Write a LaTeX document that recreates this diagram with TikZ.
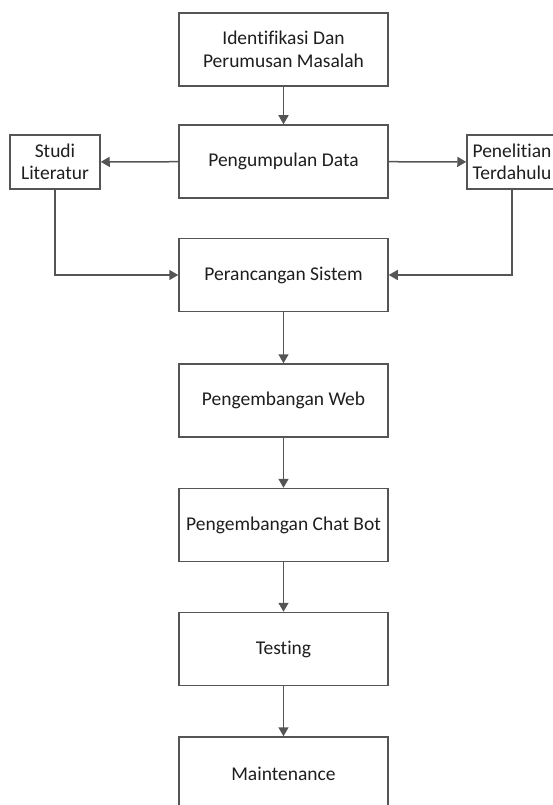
\documentclass[tikz,border=0pt]{standalone}
\usepackage{fontspec}
\setmainfont{Carlito}[Ligatures=NoCommon]
\usetikzlibrary{positioning,arrows.meta}
\definecolor{linegray}{HTML}{555555}
\definecolor{textdark}{HTML}{1E1E1E}
\begin{document}
\begin{tikzpicture}[x=1pt, y=-1pt,
    main/.style = {draw=linegray, line width=1.5pt, minimum width=209pt, minimum height=73pt,
                   inner sep=0pt, align=center, text=textdark, font=\fontsize{19.5}{22.5}\selectfont},
    side/.style = {main, minimum width=90pt, minimum height=54pt},
    arr/.style = {draw=linegray, line width=1.5pt, -{Triangle[length=9pt,width=10pt]}}]

    \useasboundingbox (0,0) rectangle (553,805);

    \node[main] (z1) at (283.5,49.5) {Identifikasi Dan\\Perumusan Masalah};
    \node[main] (z2) at (283.5,161.5) {Pengumpulan Data};
    \node[main] (z3) at (283.5,275) {Perancangan Sistem};
    \node[main] (z4) at (283.5,400.5) {Pengembangan Web};
    \node[main] (z5) at (283.5,525) {Pengembangan Chat Bot};
    \node[main] (z6) at (283.5,649) {Testing};
    \node[main] (z7) at (283.5,773.5) {Maintenance};

    \node[side] (studi) at (55,162) {Studi\\Literatur};
    \node[side] (teliti) at (512,162) {Penelitian\\Terdahulu};

    \draw[arr] (z1) -- (z2);
    \draw[arr] (z2) -- (studi);
    \draw[arr] (z2) -- (teliti);
    \draw[arr] (studi) |- (z3);
    \draw[arr] (teliti) |- (z3);
    \draw[arr] (z3) -- (z4);
    \draw[arr] (z4) -- (z5);
    \draw[arr] (z5) -- (z6);
    \draw[arr] (z6) -- (z7);

\end{tikzpicture}
\end{document}
